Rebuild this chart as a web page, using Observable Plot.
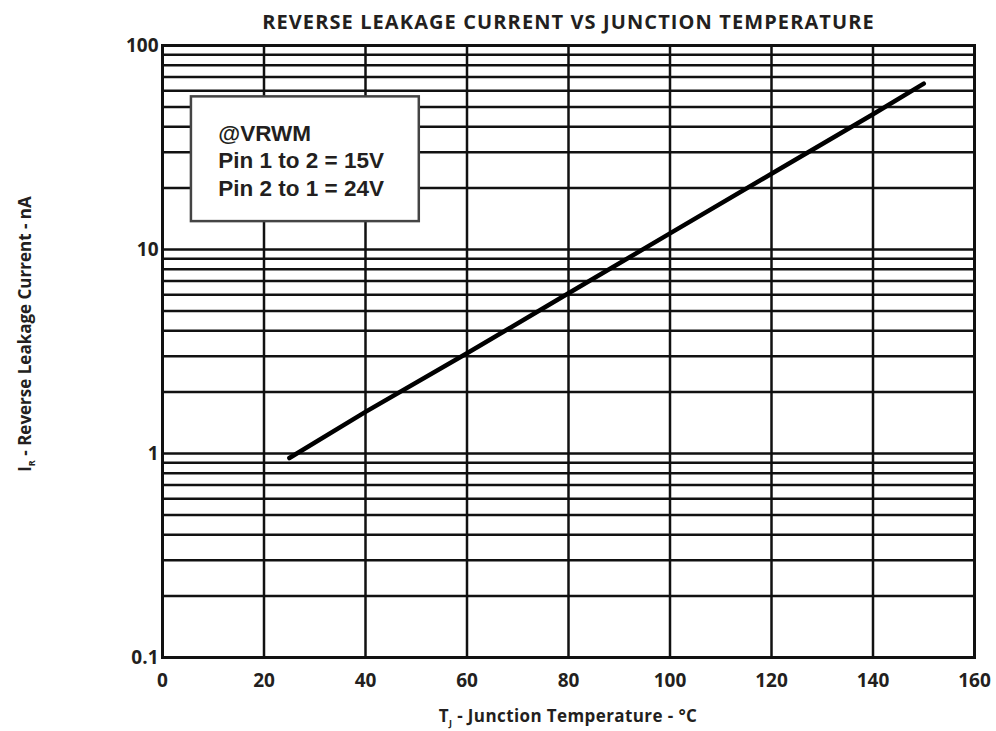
<!DOCTYPE html>
<html>
<head>
<meta charset="utf-8">
<script src="https://cdn.jsdelivr.net/npm/d3@7"></script>
<script src="https://cdn.jsdelivr.net/npm/@observablehq/plot@0.6"></script>
<style>
  html, body { margin: 0; padding: 0; background: #fff; }
  #chart svg { display: block; }
</style>
</head>
<body>
<div id="chart"></div>
<script>
// ---- data ----
const tempC = [25, 40, 60, 80, 100, 120, 140, 150];
const leakNA = [0.95, 1.6, 3.1, 6.1, 12, 23.5, 46, 65];

const xTicks = [0, 20, 40, 60, 80, 100, 120, 140, 160];
const yLabelTicks = [0.1, 1, 10, 100];
const yGrid = [
  0.1, 0.2, 0.3, 0.4, 0.5, 0.6, 0.7, 0.8, 0.9,
  1, 2, 3, 4, 5, 6, 7, 8, 9,
  10, 20, 30, 40, 50, 60, 70, 80, 90, 100
];

const titleText = "REVERSE LEAKAGE CURRENT VS JUNCTION TEMPERATURE";
const noteLines = ["@VRWM", "Pin 1 to 2 = 15V", "Pin 2 to 1 = 24V"];
// note box extent in data units (°C, nA)
const noteBoxX = [5.7, 50.6];
const noteBoxY = [13.7, 56];
const noteTextX = 11;
const noteTextY = 27.6;

const series = tempC.map((t, i) => ({t, ir: leakNA[i]}));

const ink = "#231f20";

const chart = Plot.plot({
  width: 996,
  height: 731,
  marginLeft: 162,
  marginRight: 22,
  marginTop: 45,
  marginBottom: 74,
  style: {fontFamily: "'Open Sans', sans-serif", fontWeight: "bold", fontSize: "19px", color: ink, background: "#fff"},
  x: {domain: [0, 160], ticks: xTicks, tickSize: 0, tickPadding: 16, label: null},
  y: {type: "log", domain: [0.1, 100], ticks: yLabelTicks, tickFormat: d => String(d), tickSize: 0, tickPadding: 4, label: null},
  marks: [
    Plot.ruleY(yGrid, {stroke: "#111", strokeWidth: 2.5}),
    Plot.ruleX(xTicks, {stroke: "#111", strokeWidth: 2.5}),
    Plot.frame({stroke: "#111", strokeWidth: 3}),
    Plot.rect([{}], {x1: () => noteBoxX[0], x2: () => noteBoxX[1], y1: () => noteBoxY[0], y2: () => noteBoxY[1], fill: "#fff", stroke: "#444", strokeWidth: 2.5}),
    Plot.text([noteLines.join("\n")], {x: () => noteTextX, y: () => noteTextY, text: d => d, textAnchor: "start", lineAnchor: "middle", lineHeight: 1.23, fontFamily: "'Liberation Sans', Arial, sans-serif", fontSize: 22.5, fontWeight: "bold", fill: ink}),
    Plot.line(series, {x: "t", y: "ir", stroke: "#000", strokeWidth: 4.5}),
    Plot.text([titleText], {frameAnchor: "top", lineAnchor: "middle", dy: -23, text: d => d, fontSize: 20, fontWeight: "bold", fill: ink})
  ]
});

document.getElementById("chart").appendChild(chart);
// letter spacing on title
d3.select(chart).selectAll("text").filter(function() { return this.textContent === titleText; }).style("letter-spacing", "1.1px");

// axis labels with subscripts
const svg = d3.select(chart);
const xl = svg.append("text")
  .attr("x", 568).attr("y", 722)
  .attr("text-anchor", "middle")
  .attr("fill", ink)
  .style("font-family", "'Open Sans', sans-serif")
  .style("font-weight", "bold")
  .style("font-size", "17px")
  .style("letter-spacing", "0.4px");
xl.append("tspan").text("T");
xl.append("tspan").attr("dy", 4).style("font-size", "9px").text("J");
xl.append("tspan").attr("dy", -4).text(" - Junction Temperature - °C");

const yl = svg.append("text")
  .attr("transform", "translate(31,334) rotate(-90)")
  .attr("text-anchor", "middle")
  .attr("fill", ink)
  .style("font-family", "'Open Sans', sans-serif")
  .style("font-weight", "bold")
  .style("font-size", "17px");
yl.append("tspan").text("I");
yl.append("tspan").attr("dy", 4).style("font-size", "9px").text("R");
yl.append("tspan").attr("dy", -4).text(" - Reverse Leakage Current - nA");
</script>
</body>
</html>
